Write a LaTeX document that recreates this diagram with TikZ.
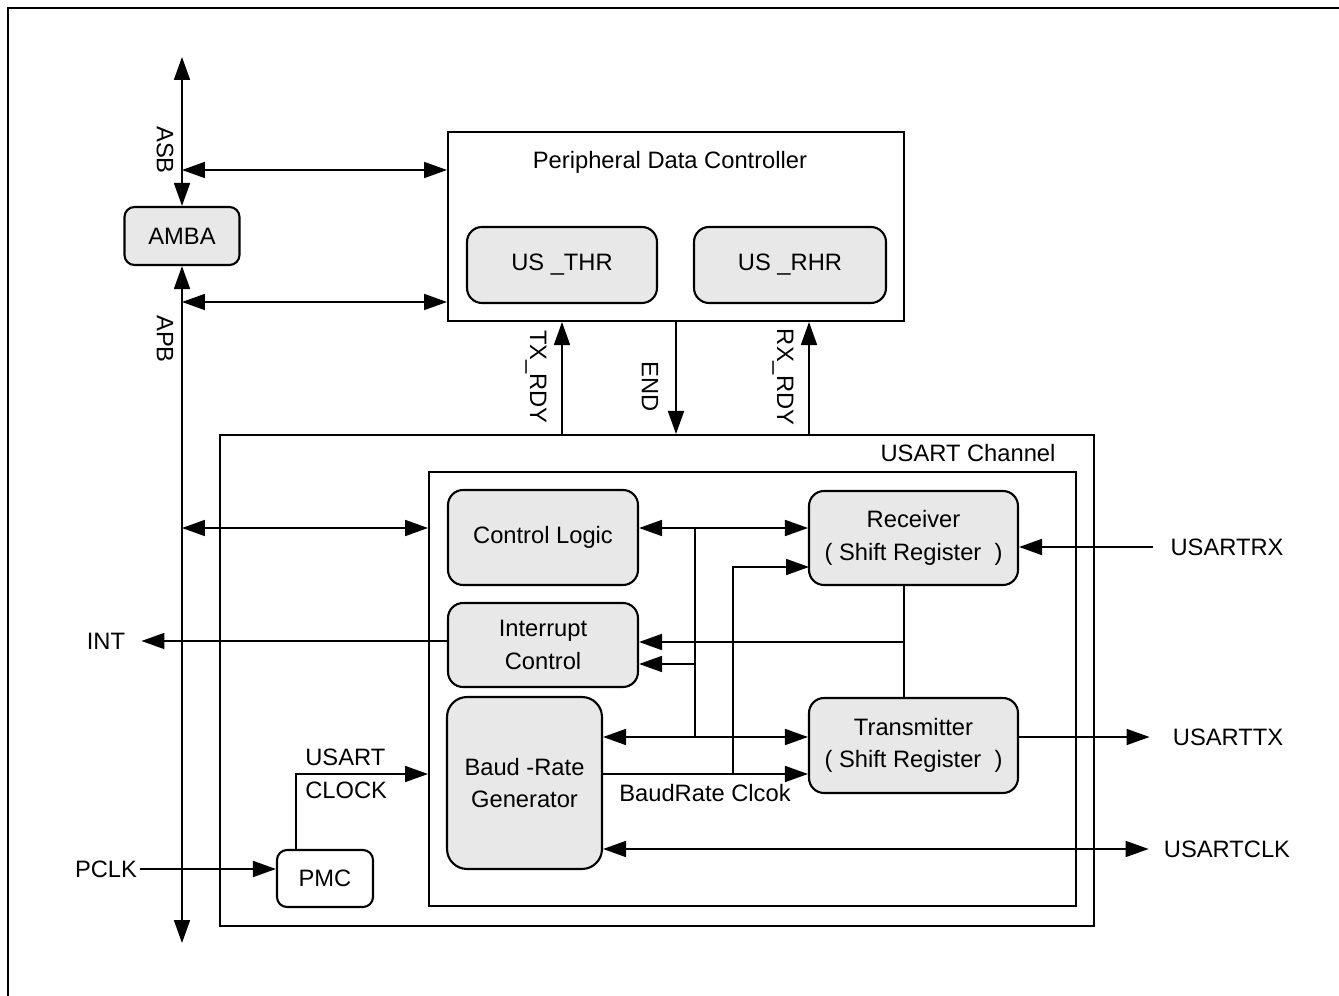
\documentclass[tikz,border=0pt]{standalone}
\usepackage{fontspec}
\setmainfont{Liberation Sans}
\usetikzlibrary{arrows.meta, calc, positioning}
\definecolor{blkgray}{RGB}{232,232,232}
\tikzset{
  rblk/.style={
    draw=black, line width=1.2pt, fill=#1,
    rounded corners=0.3cm, inner sep=2pt, align=center,
  },
  rblk/.default=blkgray,
  sqblk/.style={
    draw=black, line width=1.2pt, fill=white, inner sep=0pt,
  },
  lbl/.style={inner sep=0pt, align=center},
  wire/.style={line width=1pt, black},
  arr/.style={-{Triangle[length=0.46cm, width=0.32cm]}, line width=1pt, black},
  biarr/.style={{Triangle[length=0.46cm, width=0.32cm]}-{Triangle[length=0.46cm, width=0.32cm]},
    line width=1pt, black},
}

\begin{document}
\begin{tikzpicture}[x=0.02cm, y=-0.02cm, font=\fontsize{13.5pt}{18.5pt}\selectfont]
\useasboundingbox (0,0) rectangle (1339,996);

% outer frame
\draw[line width=1.2pt] (1339,8) -- (8,8) -- (8,996);

% =====================================================================
%  AMBA BUS
% =====================================================================
\node[rblk, rounded corners=0.2cm, minimum width=2.3cm, minimum height=1.16cm] (amba) at (182,236) {AMBA};

\coordinate (bustop) at (182,57);
\coordinate (busbot) at (182,943);
\coordinate (asb) at (182,170);
\coordinate (apb1) at (182,302);
\coordinate (apb2) at (182,528);

\node[lbl, rotate=-90] (asblbl) at (165,150) {ASB};
\node[lbl, rotate=-90] (apblbl) at (165,339) {APB};

% =====================================================================
%  PERIPHERAL DATA CONTROLLER
% =====================================================================
\node[sqblk, minimum width=9.12cm, minimum height=3.78cm] (pdc) at (676,226.5) {};
\node[lbl] (pdctitle) at (670,162) {Peripheral Data Controller};
\node[rblk, minimum width=3.8cm, minimum height=1.52cm] (thr) at (562,265) {US \_THR};
\node[rblk, minimum width=3.84cm, minimum height=1.52cm] (rhr) at (790,265) {US \_RHR};

% =====================================================================
%  USART CHANNEL
% =====================================================================
\node[sqblk, minimum width=17.48cm, minimum height=9.82cm] (usart) at (657,680.5) {};
\node[lbl] (usarttitle) at (968,453) {USART Channel};
\node[sqblk, minimum width=12.94cm, minimum height=8.68cm] (core) at (752.5,689) {};

\node[rblk, minimum width=3.8cm, minimum height=1.9cm] (ctrl) at (543,537.5) {Control Logic};
\node[rblk, minimum width=3.8cm, minimum height=1.68cm] (intc) at (543,645) {Interrupt\\Control};
\node[rblk, rounded corners=0.4cm, minimum width=3.1cm, minimum height=3.44cm] (baud) at (524.5,783) {Baud -Rate\\Generator};
\node[rblk, minimum width=4.18cm, minimum height=1.88cm] (rcv) at (913.5,538) {Receiver\\( Shift Register \ )};
\node[rblk, minimum width=4.18cm, minimum height=1.9cm] (xmt) at (913.5,745.5) {Transmitter\\( Shift Register \ )};
\node[rblk=white, rounded corners=0.2cm, minimum width=1.92cm, minimum height=1.14cm] (pmc) at (325,878.5) {PMC};

% --- outside pins
\node[lbl] (int) at (106,641) {INT};
\node[lbl] (pclk) at (106,869) {PCLK};
\node[lbl] (usartrx) at (1227,547) {USARTRX};
\node[lbl] (usarttx) at (1228,737) {USARTTX};
\node[lbl] (usartclk) at (1227,849) {USARTCLK};

% --- inside labels
\node[lbl, align=left, anchor=west] (clklbl) at (305,774) {USART\\CLOCK};
\node[lbl] (brlbl) at (705,793) {BaudRate Clcok};

% =====================================================================
%  BUS CONNECTIONS
% =====================================================================
\draw[biarr] (bustop) -- (amba.north);
\draw[biarr] (amba.south) -- (busbot);
\draw[biarr] (asb) -- (asb -| pdc.west);
\draw[biarr] (apb1) -- (apb1 -| pdc.west);
\draw[biarr] (apb2) -- (apb2 -| core.west);

% --- PDC handshake
\node[lbl, rotate=-90] (txrdylbl) at (536,377) {TX\_RDY};
\node[lbl, rotate=-90] (endlbl) at (650,387) {END};
\node[lbl, rotate=-90] (rxrdylbl) at (783,377) {RX\_RDY};
\coordinate (rxrdy) at (809,435);
\draw[arr] (thr.south |- usart.north) -- (thr.south |- pdc.south);
\draw[arr] (pdc.south) -- (pdc.south |- usart.north);
\draw[arr] (rxrdy) -- (rxrdy |- pdc.south);

% =====================================================================
%  INTERNAL CONNECTIONS
% =====================================================================
\coordinate (j1) at (695,528);
\coordinate (j2) at (695,737);
\coordinate (j3) at (695,664);
\coordinate (j4) at (904,642);
\coordinate (bc) at (733,774);
\coordinate (rxin) at (809,567);
\coordinate (ck) at (296,774);

\draw[biarr] (ctrl.east |- j1) -- (rcv.west |- j1);
\draw[wire] (j1) -- (j2);
\draw[arr] (j3) -- (j3 -| intc.east);
\draw[biarr] (j2 -| baud.east) -- (j2 -| xmt.west);
\draw[arr] (bc -| baud.east) -- (bc -| xmt.west);
\draw[arr] (bc) |- (rxin);
\draw[wire] (j4 |- rcv.south) -- (j4 |- xmt.north);
\draw[arr] (j4) -- (j4 -| intc.east);

% --- pins
\draw[arr] (intc.west |- int) -- ([xshift=0.32cm]int.east);
\draw[arr] ([xshift=-0.34cm]usartrx.west) -- (rcv.east |- usartrx);
\draw[arr] (xmt.east |- usarttx) -- ([xshift=-0.46cm]usarttx.west);
\draw[biarr] (baud.east |- usartclk) -- ([xshift=-0.3cm]usartclk.west);
\draw[arr] ([xshift=0.06cm]pclk.east) -- (pmc.west |- pclk);
\draw[arr] (ck |- pmc.north) -- (ck) -- (ck -| core.west);

\end{tikzpicture}
\end{document}
